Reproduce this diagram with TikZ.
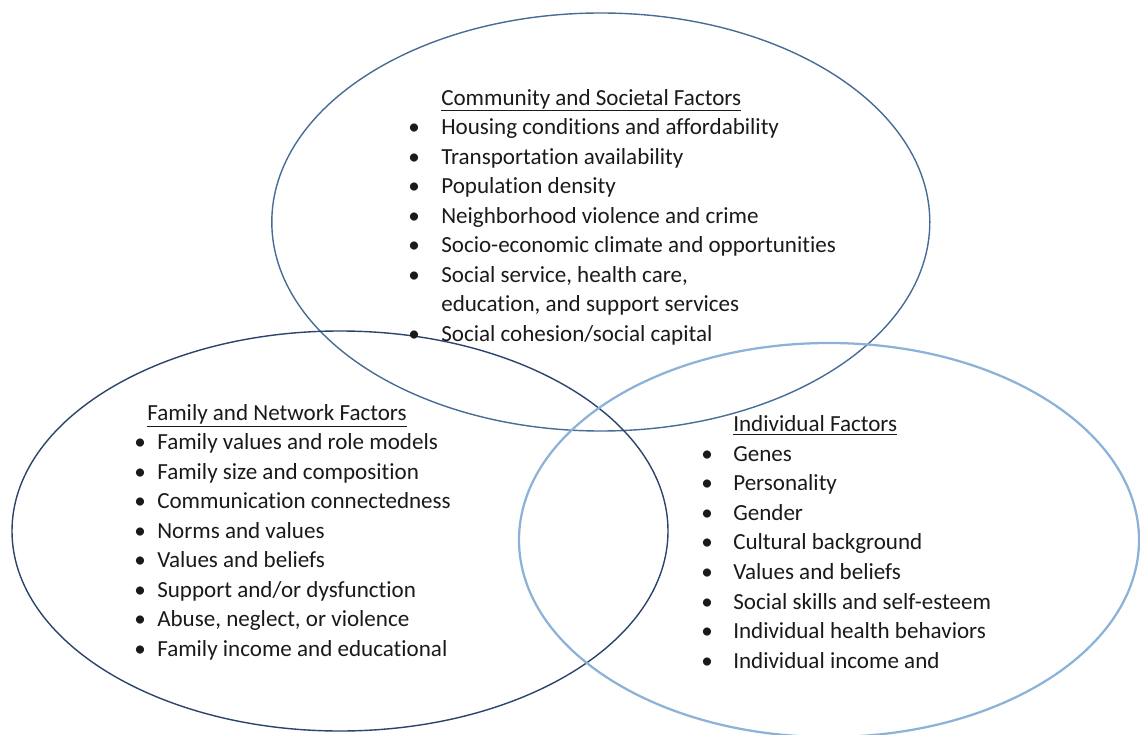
\documentclass[tikz,border=0pt]{standalone}
\usepackage{fontspec}
\setmainfont[Ligatures=NoCommon]{Carlito}
\usepackage{xcolor}
\usetikzlibrary{shapes.geometric}
\definecolor{ringtop}{RGB}{72,108,150}
\definecolor{ringleft}{RGB}{44,68,108}
\definecolor{ringright}{RGB}{140,178,216}
\definecolor{inktext}{RGB}{26,26,26}
\newcommand{\bitem}[2]{\makebox[#1][l]{\textbullet}#2}
\tikzset{
  ring/.style={
    ellipse,
    draw,
    line width=1pt,
    inner sep=0pt
  },
  factorlist/.style={
    anchor=north west,
    align=left,
    inner sep=0pt,
    text=inktext,
    font=\fontsize{16.4}{21.0}\selectfont
  }
}
\begin{document}
\begin{tikzpicture}
\useasboundingbox (0,0) rectangle (28.5,18.35);
% the three rings
\node[ring, draw=ringtop, minimum width=16.45cm, minimum height=10.45cm] (comm) at (15.02,12.8) {};
\node[ring, draw=ringleft, minimum width=16.4cm, minimum height=10.0cm] (family) at (8.5,5.075) {};
\node[ring, draw=ringright, line width=1.6pt, minimum width=15.5cm, minimum height=9.85cm] (indiv) at (20.725,4.85) {};
% factor lists
\node[factorlist] (commlist) at (10.2,16.13) {%
  \hspace*{0.825cm}\underline{Community and Societal Factors}\\
  \bitem{0.825cm}{Housing conditions and affordability}\\
  \bitem{0.825cm}{Transportation availability}\\
  \bitem{0.825cm}{Population density}\\
  \bitem{0.825cm}{Neighborhood violence and crime}\\
  \bitem{0.825cm}{Socio-economic climate and opportunities}\\
  \bitem{0.825cm}{Social service, health care,}\\
  \hspace*{0.825cm}education, and support services\\
  \bitem{0.825cm}{Social cohesion/social capital}};
\node[factorlist] (familylist) at (3.35,8.25) {%
  \hspace*{0.325cm}\underline{Family and Network Factors}\\
  \bitem{0.575cm}{Family values and role models}\\
  \bitem{0.575cm}{Family size and composition}\\
  \bitem{0.575cm}{Communication connectedness}\\
  \bitem{0.575cm}{Norms and values}\\
  \bitem{0.575cm}{Values and beliefs}\\
  \bitem{0.575cm}{Support and/or dysfunction}\\
  \bitem{0.575cm}{Abuse, neglect, or violence}\\
  \bitem{0.575cm}{Family income and educational}};
\node[factorlist] (indivlist) at (17.525,7.96) {%
  \hspace*{0.8cm}\underline{Individual Factors}\\
  \bitem{0.8cm}{Genes}\\
  \bitem{0.8cm}{Personality}\\
  \bitem{0.8cm}{Gender}\\
  \bitem{0.8cm}{Cultural background}\\
  \bitem{0.8cm}{Values and beliefs}\\
  \bitem{0.8cm}{Social skills and self-esteem}\\
  \bitem{0.8cm}{Individual health behaviors}\\
  \bitem{0.8cm}{Individual income and}};
\end{tikzpicture}
\end{document}
